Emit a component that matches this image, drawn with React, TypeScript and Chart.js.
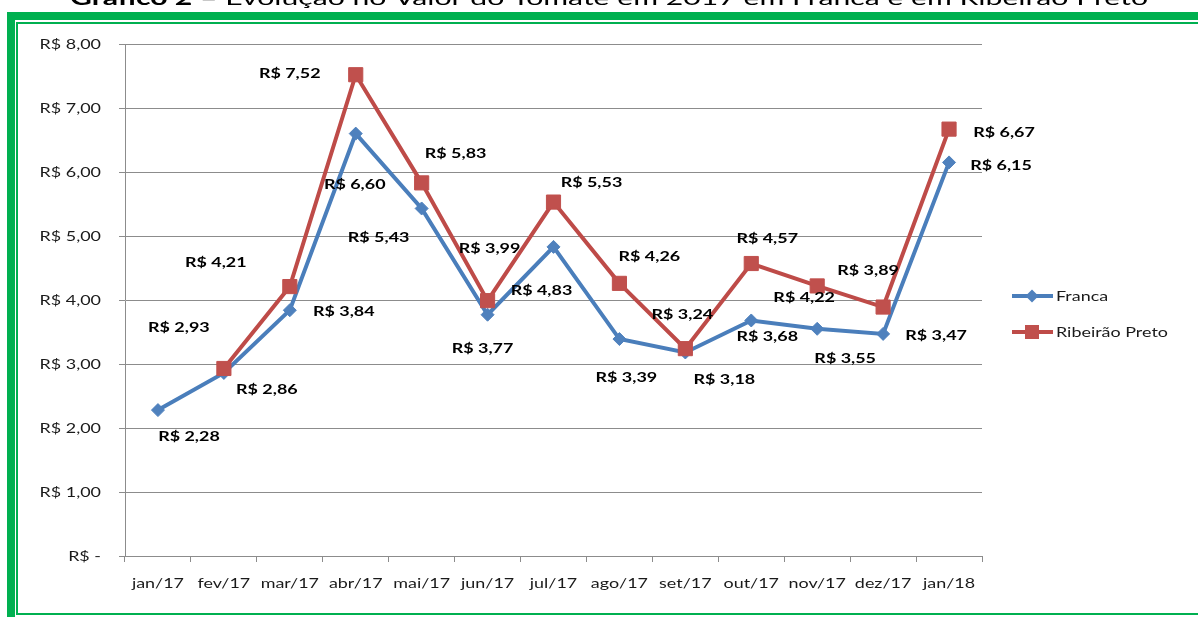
import React, { useEffect, useRef } from "react";
import { Chart, registerables } from "chart.js";

Chart.register(...registerables);

// ---- data ----
const MONTHS = ["jan/17", "fev/17", "mar/17", "abr/17", "mai/17", "jun/17", "jul/17", "ago/17", "set/17", "out/17", "nov/17", "dez/17", "jan/18"];
const FRANCA = [2.28, 2.86, 3.84, 6.6, 5.43, 3.77, 4.83, 3.39, 3.18, 3.68, 3.55, 3.47, 6.15];
const RIBEIRAO = [null, 2.93, 4.21, 7.52, 5.83, 3.99, 5.53, 4.26, 3.24, 4.57, 4.22, 3.89, 6.67];
const SERIES_NAMES = ["Franca", "Ribeirão Preto"];
const Y_MIN = 0;
const Y_MAX = 8;
const Y_STEP = 1;
const TITLE_BOLD = "Gráfico 2";
const TITLE_REST = " – Evolução no Valor do Tomate em 2017 em Franca e em Ribeirão Preto";

// label placement (offset of the label centre from its point, px)
const FRANCA_LABEL_OFFSETS = [[31, 26], [43, 16], [54, 1], [-1, 50], [-43, 28], [-5, 33], [-12, 43], [7, 38], [39, 26], [16, 15], [28, 29], [53, 1], [52, 3]];
const RIBEIRAO_LABEL_OFFSETS = [null, [-45, -42], [-74, -25], [-66, -2], [34, -30], [2, -53], [38, -20], [30, -27], [-3, -35], [16, -26], [-13, 11], [-15, -37], [55, 3]];

// ---- style ----
const W = 1198;
const H = 617;
const BLUE_LINE = "#4A7EBB";
const BLUE_MARK = "#4F81BD";
const RED_LINE = "#BE4B48";
const RED_MARK = "#C0504D";
const GRID = "#8c8c8c";
const GREEN = "#00B050";
const FONT_FAMILY = "Lato, 'Open Sans', sans-serif";
const TICK_SIZE = 14;
const LABEL_SIZE = 14;
const SX = 1.28;
const TEXT_COLOR = "#1a1a1a";

function fmt(v: number): string {
  if (v === 0) return "R$ -";
  return "R$ " + v.toFixed(2).replace(".", ",");
}

function drawText(
  ctx: CanvasRenderingContext2D,
  text: string,
  x: number,
  cy: number,
  align: "left" | "center" | "right",
  size: number,
  bold: boolean,
  color: string,
  sx: number
) {
  ctx.save();
  ctx.font = `${bold ? "bold " : ""}${size}px ${FONT_FAMILY}`;
  ctx.fillStyle = color;
  ctx.textAlign = "left";
  ctx.textBaseline = "alphabetic";
  const w = ctx.measureText(text).width * sx;
  const left = align === "center" ? x - w / 2 : align === "right" ? x - w : x;
  ctx.translate(left, cy + size * 0.36);
  ctx.scale(sx, 1);
  ctx.fillText(text, 0, 0);
  ctx.restore();
}

function drawMarker(ctx: CanvasRenderingContext2D, kind: string, x: number, y: number, r: number, color: string) {
  ctx.save();
  ctx.fillStyle = color;
  ctx.beginPath();
  if (kind === "diamond") {
    ctx.moveTo(x - r, y);
    ctx.lineTo(x, y - r);
    ctx.lineTo(x + r, y);
    ctx.lineTo(x, y + r);
    ctx.closePath();
  } else {
    ctx.rect(x - r, y - r, 2 * r, 2 * r);
  }
  ctx.fill();
  ctx.restore();
}

const customText = {
  id: "customText",
  afterDatasetsDraw(chart: any) {
    const ctx: CanvasRenderingContext2D = chart.ctx;
    const xs = chart.scales.x;
    const ys = chart.scales.y;

    // y tick labels
    ys.ticks.forEach((t: any, i: number) => {
      const py = ys.getPixelForTick(i);
      drawText(ctx, fmt(t.value), ys.right - 24, py, "right", TICK_SIZE, false, TEXT_COLOR, SX);
    });
    // x tick labels
    xs.ticks.forEach((t: any, i: number) => {
      const px = xs.getPixelForTick(i);
      drawText(ctx, String(xs.getLabelForValue(t.value)), px, xs.top + 27, "center", TICK_SIZE, false, TEXT_COLOR, SX);
    });

    // data labels
    const offsets = [FRANCA_LABEL_OFFSETS, RIBEIRAO_LABEL_OFFSETS];
    chart.data.datasets.forEach((ds: any, di: number) => {
      const meta = chart.getDatasetMeta(di);
      meta.data.forEach((pt: any, i: number) => {
        const v = ds.data[i];
        const off = offsets[di][i];
        if (v == null || !off) return;
        drawText(ctx, fmt(v), pt.x + off[0], pt.y + off[1], "center", LABEL_SIZE, true, "#000000", SX);
      });
    });

    // legend
    const legendX = 1012;
    const rows = [296, 332];
    chart.data.datasets.forEach((ds: any, di: number) => {
      const y = rows[di];
      ctx.save();
      ctx.strokeStyle = ds.borderColor;
      ctx.lineWidth = ds.borderWidth;
      ctx.beginPath();
      ctx.moveTo(legendX, y);
      ctx.lineTo(legendX + 41, y);
      ctx.stroke();
      ctx.restore();
      if (di === 0) drawMarker(ctx, "diamond", legendX + 20, y, 6.5, BLUE_MARK);
      else drawMarker(ctx, "rect", legendX + 20, y, 7, RED_MARK);
      drawText(ctx, ds.label, legendX + 44, y, "left", TICK_SIZE, false, TEXT_COLOR, SX);
    });

    // title (mostly cropped by the top of the picture)
    ctx.save();
    const tsize = 20;
    ctx.font = `bold ${tsize}px ${FONT_FAMILY}`;
    const wb = ctx.measureText(TITLE_BOLD).width;
    ctx.font = `${tsize}px ${FONT_FAMILY}`;
    const wr = ctx.measureText(TITLE_REST).width;
    const tsx = (1148 - 70) / (wb + wr);
    ctx.translate(70, 5);
    ctx.scale(tsx, 1);
    ctx.fillStyle = "#000";
    ctx.textBaseline = "alphabetic";
    ctx.font = `bold ${tsize}px ${FONT_FAMILY}`;
    ctx.fillText(TITLE_BOLD, 0, 0);
    ctx.font = `${tsize}px ${FONT_FAMILY}`;
    ctx.fillText(TITLE_REST, wb, 0);
    ctx.restore();
  },
};

export default function App() {
  const ref = useRef<HTMLCanvasElement | null>(null);

  useEffect(() => {
    if (!ref.current) return;
    const chart = new Chart(ref.current, {
      type: "line",
      data: {
        labels: MONTHS,
        datasets: [
          {
            label: SERIES_NAMES[0],
            data: FRANCA,
            borderColor: BLUE_LINE,
            backgroundColor: BLUE_MARK,
            borderWidth: 4,
            pointStyle: "rectRot",
            pointRadius: 6.5,
            pointBorderWidth: 1,
            pointBorderColor: BLUE_MARK,
            pointBackgroundColor: BLUE_MARK,
            tension: 0,
            order: 1,
          },
          {
            label: SERIES_NAMES[1],
            data: RIBEIRAO,
            borderColor: RED_LINE,
            backgroundColor: RED_MARK,
            borderWidth: 4,
            pointStyle: "rect",
            pointRadius: 10,
            pointBorderWidth: 1,
            pointBorderColor: RED_MARK,
            pointBackgroundColor: RED_MARK,
            tension: 0,
            order: 0,
          },
        ],
      },
      options: {
        responsive: false,
        animation: false,
        devicePixelRatio: 1,
        layout: { padding: { top: 44, right: W - 982, left: 0, bottom: 0 } },
        plugins: { legend: { display: false }, title: { display: false }, tooltip: { enabled: false } },
        events: [],
        scales: {
          x: {
            type: "category",
            offset: true,
            grid: { display: true, offset: true, drawOnChartArea: false, drawTicks: true, tickLength: 6, color: GRID, lineWidth: 1 },
            border: { display: true, color: GRID, width: 1 },
            ticks: { color: "rgba(0,0,0,0)", font: { size: TICK_SIZE }, maxRotation: 0, autoSkip: false },
            afterFit: (s: any) => {
              s.height = 61;
            },
          },
          y: {
            min: Y_MIN,
            max: Y_MAX,
            ticks: { stepSize: Y_STEP, color: "rgba(0,0,0,0)", font: { size: TICK_SIZE } },
            grid: { color: GRID, lineWidth: 1, drawTicks: true, tickLength: 6 },
            border: { display: true, color: GRID, width: 1 },
            afterFit: (s: any) => {
              s.width = 125;
            },
          },
        },
      },
      plugins: [customText],
    } as any);
    return () => chart.destroy();
  }, []);

  return (
    <div style={{ position: "fixed", left: 0, top: 0, width: W, height: H, overflow: "hidden", background: "#fff" }}>
      <div style={{ position: "absolute", left: 7, top: 12, width: 1300, height: 700, background: GREEN }} />
      <div style={{ position: "absolute", left: 15, top: 20, width: 1300, height: 597, background: "#fff" }} />
      <div style={{ position: "absolute", left: 16, top: 22, width: 1300, height: 593, background: GREEN }} />
      <div style={{ position: "absolute", left: 18, top: 24, width: 1300, height: 589, background: "#fff" }} />
      <canvas ref={ref} width={W} height={H} style={{ position: "absolute", left: 0, top: 0, width: W, height: H }} />
    </div>
  );
}
